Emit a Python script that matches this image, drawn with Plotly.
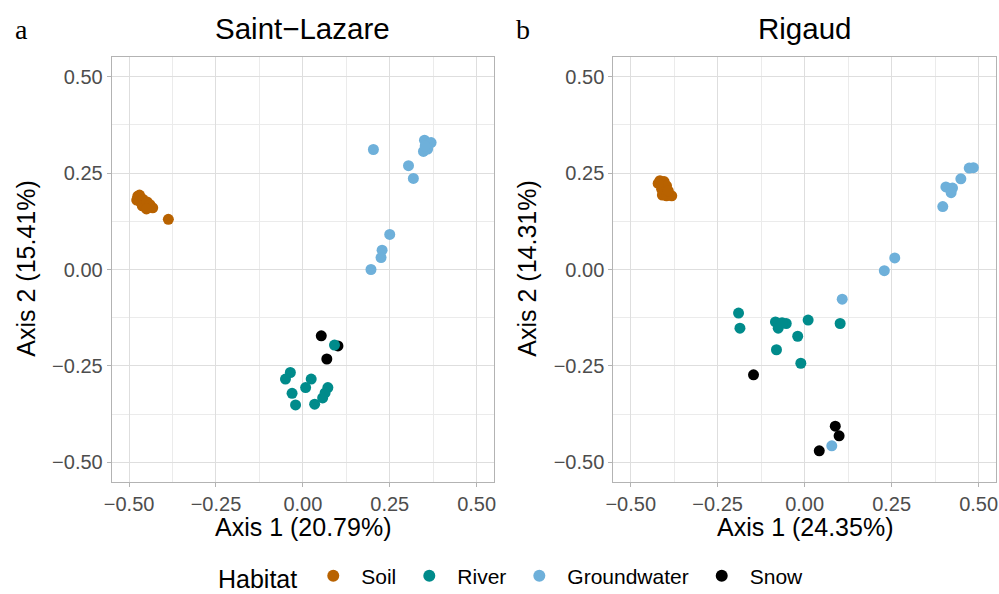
import plotly.graph_objects as go

# ---------------- data ----------------
habitats = ["Soil", "River", "Groundwater", "Snow"]
colors = {"Soil": "#b86200", "River": "#008b8b", "Groundwater": "#6eb0da", "Snow": "#000000"}

panel_titles = ["Saint\u2212Lazare", "Rigaud"]
panel_letters = ["a", "b"]
x_titles = ["Axis 1 (20.79%)", "Axis 1 (24.35%)"]
y_titles = ["Axis 2 (15.41%)", "Axis 2 (14.31%)"]

tick_vals = [-0.5, -0.25, 0.0, 0.25, 0.5]
tick_text = ["\u22120.50", "\u22120.25", "0.00", "0.25", "0.50"]

# Saint-Lazare
sl_soil_x = [-0.475, -0.470, -0.478, -0.468, -0.460, -0.455, -0.462, -0.448, -0.445, -0.440, -0.432, -0.450, -0.387]
sl_soil_y = [0.190, 0.193, 0.180, 0.176, 0.182, 0.170, 0.165, 0.175, 0.162, 0.168, 0.160, 0.157, 0.130]
sl_river_x = [-0.036, -0.050, 0.024, 0.008, -0.031, -0.021, 0.034, 0.072, 0.064, 0.057, 0.091]
sl_river_y = [-0.267, -0.284, -0.284, -0.306, -0.321, -0.351, -0.349, -0.306, -0.320, -0.333, -0.196]
sl_gw_x = [0.203, 0.304, 0.318, 0.350, 0.369, 0.347, 0.359, 0.352, 0.250, 0.228, 0.225, 0.196]
sl_gw_y = [0.311, 0.269, 0.236, 0.335, 0.329, 0.306, 0.312, 0.320, 0.091, 0.050, 0.031, 0.000]
sl_snow_x = [0.053, 0.101, 0.069]
sl_snow_y = [-0.172, -0.198, -0.232]

# Rigaud
rg_soil_x = [-0.416, -0.404, -0.397, -0.411, -0.409, -0.397, -0.382, -0.421, -0.392]
rg_soil_y = [0.230, 0.228, 0.217, 0.208, 0.193, 0.191, 0.191, 0.223, 0.204]
rg_river_x = [-0.190, -0.186, -0.084, -0.076, -0.053, -0.020, 0.010, -0.081, -0.011, 0.102, -0.065]
rg_river_y = [-0.113, -0.152, -0.136, -0.152, -0.140, -0.173, -0.131, -0.208, -0.243, -0.140, -0.138]
rg_gw_x = [0.485, 0.473, 0.449, 0.406, 0.425, 0.421, 0.397, 0.259, 0.229, 0.108, 0.078]
rg_gw_y = [0.264, 0.263, 0.235, 0.214, 0.211, 0.199, 0.163, 0.030, -0.003, -0.077, -0.457]
rg_snow_x = [-0.147, 0.088, 0.099, 0.042]
rg_snow_y = [-0.273, -0.406, -0.431, -0.470]

panels = [
    {"Soil": (sl_soil_x, sl_soil_y), "River": (sl_river_x, sl_river_y),
     "Groundwater": (sl_gw_x, sl_gw_y), "Snow": (sl_snow_x, sl_snow_y)},
    {"Soil": (rg_soil_x, rg_soil_y), "River": (rg_river_x, rg_river_y),
     "Groundwater": (rg_gw_x, rg_gw_y), "Snow": (rg_snow_x, rg_snow_y)},
]

W, H = 999, 594
FONT = "Liberation Sans, Arial, sans-serif"

fig = go.Figure()
draw_order = ["Snow", "Soil", "River", "Groundwater"]
for i, pdata in enumerate(panels):
    xa = "x" if i == 0 else "x2"
    ya = "y" if i == 0 else "y2"
    for h in draw_order:
        xs, ys = pdata[h]
        fig.add_trace(go.Scatter(
            x=xs, y=ys, mode="markers", name=h, legendgroup=h,
            legendrank=habitats.index(h) + 1,
            showlegend=(i == 0),
            marker=dict(color=colors[h], size=11, line=dict(width=0)),
            xaxis=xa, yaxis=ya,
        ))

x_domains = [[111.7 / W, 494 / W], [613.3 / W, 996 / W]]
y_domain = [1 - 481.7 / H, 1 - 57.3 / H]

axis_common = dict(
    range=[-0.55, 0.55], tickmode="array", tickvals=tick_vals, ticktext=tick_text,
    showgrid=True, gridcolor="#dedede", gridwidth=1,
    minor=dict(dtick=0.25, tick0=0.125, showgrid=True, gridcolor="#ebebeb", gridwidth=1, ticks=""),
    zeroline=False, showline=True, mirror=True, linecolor="#b3b3b3", linewidth=1,
    ticks="outside", ticklen=4, tickcolor="#b3b3b3", tickwidth=1,
    tickfont=dict(family=FONT, size=20, color="#4d4d4d"),
    automargin=False, fixedrange=True,
)

fig.update_layout(
    width=W, height=H,
    margin=dict(l=0, r=0, t=0, b=0, autoexpand=False),
    paper_bgcolor="white", plot_bgcolor="white",
    xaxis=dict(domain=x_domains[0], anchor="y", **axis_common),
    yaxis=dict(domain=y_domain, anchor="x", **axis_common),
    xaxis2=dict(domain=x_domains[1], anchor="y2", **axis_common),
    yaxis2=dict(domain=y_domain, anchor="x2", **axis_common),
    showlegend=True,
    legend=dict(
        orientation="h", x=216 / W, xanchor="left", y=1 - 577 / H, yanchor="middle",
        title=dict(text="Habitat", side="left", font=dict(family=FONT, size=25, color="black")),
        font=dict(family=FONT, size=21, color="black"),
        bgcolor="rgba(0,0,0,0)", itemsizing="constant", itemwidth=46,
    ),
    font=dict(family=FONT),
)

annotations = []
for i in range(2):
    cx = (x_domains[i][0] + x_domains[i][1]) / 2
    annotations.append(dict(text=panel_titles[i], x=cx, y=1 - 28 / H, xref="paper", yref="paper",
                            showarrow=False, xanchor="center", yanchor="middle",
                            font=dict(family=FONT, size=29.5, color="black")))
    annotations.append(dict(text=x_titles[i], x=cx, y=1 - 527 / H, xref="paper", yref="paper",
                            showarrow=False, xanchor="center", yanchor="middle",
                            font=dict(family=FONT, size=25, color="black")))
    ytx = [26, 527][i]
    annotations.append(dict(text=y_titles[i], x=ytx / W, y=1 - 268.7 / H, xref="paper", yref="paper",
                            showarrow=False, xanchor="center", yanchor="middle", textangle=-90,
                            font=dict(family=FONT, size=25, color="black")))
    lx = [13, 514][i]
    annotations.append(dict(text=panel_letters[i], x=lx / W, y=1 - 30 / H, xref="paper", yref="paper",
                            showarrow=False, xanchor="left", yanchor="middle",
                            font=dict(family="Liberation Serif, Times New Roman, serif", size=28, color="black")))
fig.update_layout(annotations=annotations)

fig.write_html("out.html", post_script="document.body.style.margin='0';",
               config={"displayModeBar": False})
